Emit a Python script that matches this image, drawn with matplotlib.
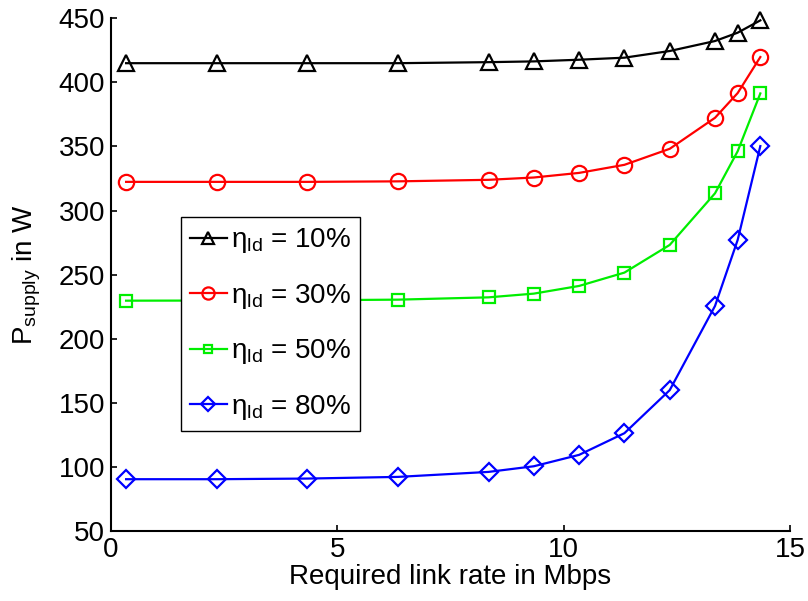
import numpy as np
import matplotlib.pyplot as plt

plt.rcParams['font.family'] = ['Liberation Sans', 'DejaVu Sans']
plt.rcParams['mathtext.fontset'] = 'custom'
plt.rcParams['mathtext.rm'] = 'Liberation Sans'
plt.rcParams['mathtext.it'] = 'Liberation Sans:italic'

rate = [0.34, 2.34, 4.34, 6.34, 8.34, 9.34, 10.34, 11.34, 12.34, 13.34, 13.84, 14.34]

p10 = [415, 415, 415, 415, 415.8, 416.4, 417.7, 419.3, 424.5, 432.3, 438.8, 448.4]
p30 = [322.4, 322.4, 322.4, 322.8, 324, 325.8, 329.4, 335.7, 348.2, 372.4, 391.7, 419.8]
p50 = [229.7, 229.8, 230.0, 230.5, 232.3, 235.2, 241.2, 251.6, 273.2, 313.5, 346.3, 391.4]
p80 = [90.4, 90.4, 90.9, 92.2, 96.1, 100.5, 109.4, 126.3, 159.9, 225.6, 277.1, 350.3]

series = [
    (p10, 'k', '^', '10%'),
    (p30, 'r', 'o', '30%'),
    (p50, '#00ee00', 's', '50%'),
    (p80, 'b', 'D', '80%'),
]

fig = plt.figure(figsize=(8.08, 6.01), dpi=100)
ax = fig.add_axes([0.137, 0.1165, 0.841, 0.853])

for vals, col, mk, lab in series:
    ms = 9 if mk == 'D' else (8 if mk == 's' else 11)
    ax.plot(rate, vals, color=col, marker=mk, markersize=ms, markerfacecolor='none',
            markeredgecolor=col, markeredgewidth=1.6, linewidth=1.6, clip_on=False,
            label=r'$\mathrm{\eta_{ld}}$ = ' + lab)

ax.set_xlim(0, 15)
ax.set_ylim(50, 450)
ax.set_xticks([0, 5, 10, 15])
ax.set_yticks(np.arange(50, 451, 50))
ax.tick_params(direction='in', length=4, width=1.2, labelsize=20, pad=4)
ax.spines['top'].set_visible(False)
ax.spines['right'].set_visible(False)
for s in ['left', 'bottom']:
    ax.spines[s].set_linewidth(1.5)

ax.set_xlabel('Required link rate in Mbps', fontsize=20, labelpad=1)
ax.set_ylabel(r'P$_{\mathrm{supply}}$ in W', fontsize=20, labelpad=11)

leg = ax.legend(loc='upper left', bbox_to_anchor=(0.103, 0.613), fontsize=20,
                frameon=True, fancybox=False, edgecolor='black', framealpha=1,
                handlelength=1.3, handletextpad=0.15, labelspacing=0.95,
                borderpad=0.35, borderaxespad=0, markerscale=0.8)
leg.get_frame().set_linewidth(1.0)

plt.savefig('out.png', dpi=100)
